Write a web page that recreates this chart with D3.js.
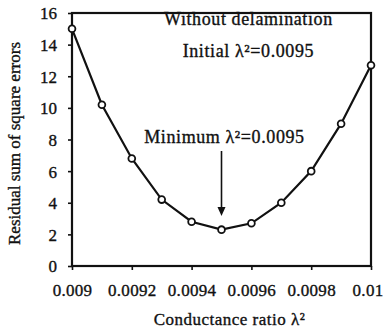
<!DOCTYPE html>
<html>
<head>
<meta charset="utf-8">
<script src="https://cdn.jsdelivr.net/npm/d3@7"></script>
<style>
  body { margin: 0; background: #fff; }
  svg text { font-family: 'Liberation Serif', 'DejaVu Serif', serif !important; fill: #111; stroke: #111; stroke-width: 0.35px; }
</style>
</head>
<body>
<script>
var ratios = [0.009, 0.0091, 0.0092, 0.0093, 0.0094, 0.0095, 0.0096, 0.0097, 0.0098, 0.0099, 0.01],
  residuals = [15.0, 10.2, 6.8, 4.2, 2.8, 2.3, 2.7, 4.0, 6.0, 9.0, 12.7],
  xTicks = [0.009, 0.0092, 0.0094, 0.0096, 0.0098, 0.01],
  xTickLabels = ['0.009', '0.0092', '0.0094', '0.0096', '0.0098', '0.01'],
  yTicks = [0, 2, 4, 6, 8, 10, 12, 14, 16];

var width = 384,
  height = 333,
  margin = { top: 13, right: 13, bottom: 67, left: 72 },
  svg = d3.select('body').append('svg').attr('width', width).attr('height', height)
    .attr('font-family', 'Liberation Serif, DejaVu Serif, serif'),
  plotW = width - margin.left - margin.right,
  plotH = height - margin.top - margin.bottom,
  g = svg.append('g').attr('transform', 'translate(' + margin.left + ',' + margin.top + ')'),
  x = d3.scaleLinear().domain([0.009, 0.01]).range([0, plotW]),
  y = d3.scaleLinear().domain([0, 16]).range([plotH, 0]);

// frame
g.append('rect').attr('width', plotW).attr('height', plotH)
  .attr('fill', 'none').attr('stroke', '#111').attr('stroke-width', 2.2);

var xAxis = g.append('g').attr('transform', 'translate(0,' + plotH + ')')
  .call(d3.axisBottom(x).tickValues(xTicks).tickSize(4).tickPadding(14)
    .tickFormat(function(d, i) { return xTickLabels[i]; }));
var yAxis = g.append('g')
  .call(d3.axisLeft(y).tickValues(yTicks).tickSize(4).tickPadding(11));

[xAxis, yAxis].forEach(function(ax) {
  ax.attr('font-family', null).attr('font-size', null);
  ax.select('.domain').remove();
  ax.selectAll('line').attr('stroke', '#111').attr('stroke-width', 1.6);
  ax.selectAll('text').style('font-size', '17px');
});
xAxis.selectAll('text').style('letter-spacing', '0.3px');
// last label would run off the right edge
xAxis.selectAll('.tick:last-of-type text').attr('text-anchor', 'end').attr('dx', 12);
yAxis.selectAll('text').attr('dy', '0.35em');

// curve
var line = d3.line()
  .x(function(d, i) { return x(ratios[i]); })
  .y(function(d) { return y(d); });

g.append('path').datum(residuals).attr('d', line)
  .attr('fill', 'none').attr('stroke', '#111').attr('stroke-width', 2.2);

g.selectAll('circle.pt').data(residuals).enter().append('circle')
  .attr('class', 'pt')
  .attr('cx', function(d, i) { return x(ratios[i]); })
  .attr('cy', function(d) { return y(d); })
  .attr('r', 3.4)
  .attr('fill', '#fff').attr('stroke', '#111').attr('stroke-width', 1.8);

// annotations
var cx = x(0.00959);
g.append('text').attr('x', cx).attr('y', 12).attr('text-anchor', 'middle')
  .style('font-size', '18px').style('letter-spacing', '0.6px').text('Without delamination');
g.append('text').attr('x', cx).attr('y', 44).attr('text-anchor', 'middle')
  .style('font-size', '18px').style('letter-spacing', '0.6px').text('Initial λ²=0.0095');

g.append('text').attr('x', x(0.00951)).attr('y', 130).attr('text-anchor', 'middle')
  .style('font-size', '18px').style('letter-spacing', '0.6px').text('Minimum λ²=0.0095');

var ax0 = x(0.0095);
g.append('line').attr('x1', ax0).attr('x2', ax0).attr('y1', 138).attr('y2', 196)
  .attr('stroke', '#111').attr('stroke-width', 1.6);
g.append('path')
  .attr('d', 'M' + (ax0 - 4) + ',194L' + (ax0 + 4) + ',194L' + ax0 + ',203Z')
  .attr('fill', '#111');

// axis titles
svg.append('text').attr('x', margin.left + plotW / 2 + 8).attr('y', 325)
  .attr('text-anchor', 'middle').style('font-size', '17px').style('letter-spacing', '0.5px')
  .text('Conductance ratio λ²');
svg.append('text')
  .attr('transform', 'translate(20,' + (margin.top + plotH / 2 + 4) + ') rotate(-90)')
  .attr('text-anchor', 'middle').style('font-size', '17px')
  .text('Residual sum of square errors');
</script>
</body>
</html>
